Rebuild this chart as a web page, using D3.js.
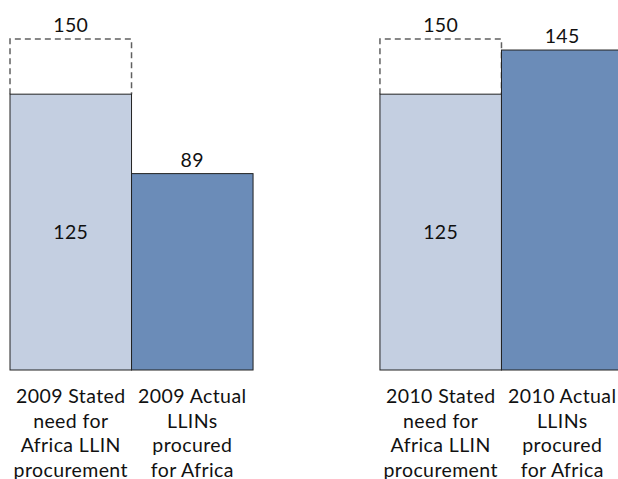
<!DOCTYPE html>
<html>
<head>
<meta charset="utf-8">
<script src="https://cdn.jsdelivr.net/npm/d3@7"></script>
<style>
  html, body { margin: 0; padding: 0; background: #fff; }
  svg { display: block; }
  text { font-family: Lato, "Open Sans", sans-serif; fill: #111; }
</style>
</head>
<body>
<svg id="chart" width="618" height="479"></svg>
<script>
// LLIN procurement for Africa: stated need (range) vs. actual procurement, millions of nets
const years = ["2009", "2010"];
const series = ["stated", "actual"];
const statedLow = [125, 125];   // solid light bar
const statedHigh = [150, 150];  // dashed upper bound of stated need
const actual = [89, 145];
const categoryLabels = [
  [["2009 Stated", "need for", "Africa LLIN", "procurement"], ["2009 Actual", "LLINs", "procured", "for Africa"]],
  [["2010 Stated", "need for", "Africa LLIN", "procurement"], ["2010 Actual", "LLINs", "procured", "for Africa"]]
];

const svg = d3.select("#chart");
const baseY = 370;

const x0 = d3.scaleBand().domain(years).range([10, 623]).paddingInner(0.343).paddingOuter(0);
const x1 = d3.scaleBand().domain(series).range([0, x0.bandwidth()]).padding(0);
const y = d3.scaleLinear().domain([0, 150]).range([baseY, 39]);

const lightFill = "#c4cfe1";
const darkFill = "#6b8cb8";

const groups = svg.selectAll("g.year")
  .data(years.map((yr, i) => ({ yr, i })))
  .join("g")
  .attr("class", "year")
  .attr("transform", d => `translate(${x0(d.yr)},0)`);

// dashed outline for the upper range of stated need
groups.append("path")
  .attr("d", d => {
    const x = x1("stated"), w = x1.bandwidth();
    return `M${x},${y(statedLow[d.i])}V${y(statedHigh[d.i])}H${x + w}V${y(statedLow[d.i])}`;
  })
  .attr("fill", "none")
  .attr("stroke", "#606060")
  .attr("stroke-width", 1.5)
  .attr("stroke-dasharray", "6,4");

// stated-need bar
groups.append("rect")
  .attr("x", x1("stated"))
  .attr("width", x1.bandwidth())
  .attr("y", d => y(statedLow[d.i]))
  .attr("height", d => baseY - y(statedLow[d.i]))
  .attr("fill", lightFill)
  .attr("stroke", "#222")
  .attr("stroke-width", 1);

// actual procurement bar
groups.append("rect")
  .attr("x", x1("actual"))
  .attr("width", x1.bandwidth())
  .attr("y", d => y(actual[d.i]))
  .attr("height", d => baseY - y(actual[d.i]))
  .attr("fill", darkFill)
  .attr("stroke", "#222")
  .attr("stroke-width", 1);

// value labels
const fs = 19.5;
const ls = "0.4px";
groups.append("text")
  .attr("x", x1("stated") + x1.bandwidth() / 2)
  .attr("y", d => y(statedHigh[d.i]) - 7)
  .attr("text-anchor", "middle")
  .attr("font-size", fs)
  .style("letter-spacing", ls)
  .text(d => statedHigh[d.i]);

groups.append("text")
  .attr("x", x1("stated") + x1.bandwidth() / 2)
  .attr("y", d => (y(statedLow[d.i]) + baseY) / 2)
  .attr("dy", "0.35em")
  .attr("text-anchor", "middle")
  .attr("font-size", fs)
  .style("letter-spacing", ls)
  .text(d => statedLow[d.i]);

groups.append("text")
  .attr("x", x1("actual") + x1.bandwidth() / 2)
  .attr("y", d => y(actual[d.i]) - 7)
  .attr("text-anchor", "middle")
  .attr("font-size", fs)
  .style("letter-spacing", ls)
  .text(d => actual[d.i]);

// category labels beneath bars
groups.each(function (d) {
  const g = d3.select(this);
  series.forEach((s, si) => {
    const t = g.append("text")
      .attr("text-anchor", "middle")
      .attr("font-size", fs)
      .style("letter-spacing", ls);
    categoryLabels[d.i][si].forEach((line, li) => {
      t.append("tspan")
        .attr("x", x1(s) + x1.bandwidth() / 2)
        .attr("y", 403 + li * 24.5)
        .text(line);
    });
  });
});
</script>
</body>
</html>
